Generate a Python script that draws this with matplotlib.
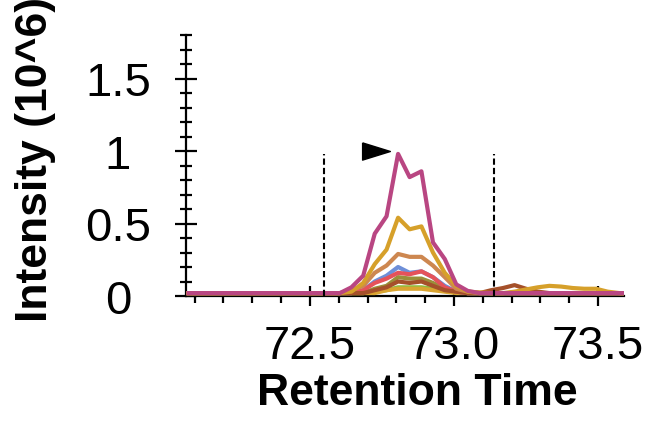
import matplotlib
matplotlib.use("Agg")
import matplotlib.pyplot as plt
from matplotlib.ticker import MultipleLocator, FormatStrFormatter, FuncFormatter

plt.rcParams["font.family"] = ["Liberation Sans", "DejaVu Sans"]

# retention time of each scan (min)
rt = [72.079, 72.119, 72.160, 72.200, 72.241, 72.281, 72.321, 72.362, 72.402, 72.442,
      72.483, 72.523, 72.564, 72.604, 72.644, 72.685, 72.725, 72.766, 72.806, 72.846,
      72.887, 72.927, 72.968, 73.008, 73.048, 73.089, 73.129, 73.170, 73.210, 73.250,
      73.291, 73.331, 73.372, 73.412, 73.452, 73.493, 73.533, 73.574, 73.614]

# intensities (10^6) per transition
green = [0.02] * 16 + [0.03, 0.04, 0.06, 0.06, 0.06, 0.05, 0.04, 0.03] + [0.02] * 15
gold2 = [0.02] * 17 + [0.04, 0.05, 0.05, 0.05, 0.04, 0.03] + [0.02] * 16
olive = [0.02] * 16 + [0.05, 0.07, 0.13, 0.12, 0.12, 0.09, 0.05, 0.03] + [0.02] * 15
blue = [0.02] * 15 + [0.04, 0.10, 0.14, 0.20, 0.16, 0.17, 0.13, 0.07, 0.03] + [0.02] * 15
red = [0.02] * 15 + [0.04, 0.09, 0.12, 0.16, 0.15, 0.17, 0.13, 0.06, 0.03] + [0.02] * 15
peru = [0.02] * 14 + [0.04, 0.07, 0.16, 0.21, 0.29, 0.27, 0.27, 0.21, 0.13, 0.05, 0.03] + [0.02] * 14
gold = ([0.02] * 14 + [0.03, 0.09, 0.22, 0.32, 0.54, 0.46, 0.48, 0.30, 0.16, 0.07, 0.03, 0.025]
        + [0.02, 0.02, 0.03, 0.045, 0.06, 0.07, 0.065, 0.055, 0.05, 0.05, 0.03, 0.02, 0.02])
sienna = ([0.02] * 16 + [0.04, 0.06, 0.10, 0.09, 0.10, 0.07, 0.04, 0.03, 0.02, 0.02]
          + [0.04, 0.055, 0.075, 0.05, 0.03] + [0.02] * 8)
magenta = ([0.02] * 13 + [0.02, 0.06, 0.14, 0.43, 0.55, 0.98, 0.82, 0.86, 0.37, 0.255, 0.08, 0.035]
           + [0.02] * 14)

series = [
    (green, "#8DBE3E"),
    (gold2, "#D9A431"),
    (olive, "#9A8F3A"),
    (blue, "#6E8FD8"),
    (red, "#E5525A"),
    (sienna, "#A5502A"),
    (peru, "#CD8750"),
    (gold, "#D6A02A"),
    (magenta, "#B94682"),
]

# integration boundaries and apex marker
bounds = [72.548, 73.138]
bound_top = 0.98
apex_rt = 72.73
apex_y = 1.0

fig = plt.figure(figsize=(6.49, 4.35), dpi=100)
ax = fig.add_axes([186 / 649, 138 / 435, 438 / 649, 261 / 435])

for vals, col in series:
    ax.plot(rt, vals, color=col, lw=3.0, solid_joinstyle="round", zorder=3)

ax.vlines(bounds, 0, bound_top, colors="black", linestyles=(0, (3, 1.5)), lw=1.5, zorder=4)
tri = [(-1, 0.62), (1, 0), (-1, -0.62), (-1, 0.62)]
ax.plot([apex_rt], [apex_y], marker=tri, color="black", markersize=20, ls="none", zorder=5)

ax.set_xlim(72.07, 73.59)
ax.set_ylim(0, 1.8)

for s in ["top", "right"]:
    ax.spines[s].set_visible(False)
for s in ["left", "bottom"]:
    ax.spines[s].set_linewidth(1.6)

ax.xaxis.set_major_locator(MultipleLocator(0.5))
ax.xaxis.set_minor_locator(MultipleLocator(0.1))
ax.xaxis.set_major_formatter(FormatStrFormatter("%.1f"))
ax.yaxis.set_major_locator(MultipleLocator(0.5))
ax.yaxis.set_minor_locator(MultipleLocator(0.1))
ax.yaxis.set_major_formatter(FuncFormatter(lambda v, p: f"{v:g}"))

ax.tick_params(axis="x", which="major", direction="inout", length=15, width=1.6,
               labelsize=34, pad=13)
ax.tick_params(axis="x", which="minor", direction="out", length=5, width=1.6)
ax.tick_params(axis="y", which="major", direction="inout", length=16, width=1.6,
               labelsize=34, pad=41)
ax.tick_params(axis="y", which="minor", direction="inout", length=8, width=1.6)
for lab in ax.get_yticklabels():
    lab.set_horizontalalignment("center")

ax.set_xlabel("Retention Time", fontsize=32, fontweight="bold", va="baseline")
ax.xaxis.set_label_coords(417 / 649, 30 / 435, transform=fig.transFigure)
ax.set_ylabel("Intensity (10^6)", fontsize=32, fontweight="bold",
              ha="left", va="center", rotation_mode="anchor")
ax.yaxis.set_label_coords(35 / 649, 113 / 435, transform=fig.transFigure)

fig.savefig("out.png", dpi=100)
